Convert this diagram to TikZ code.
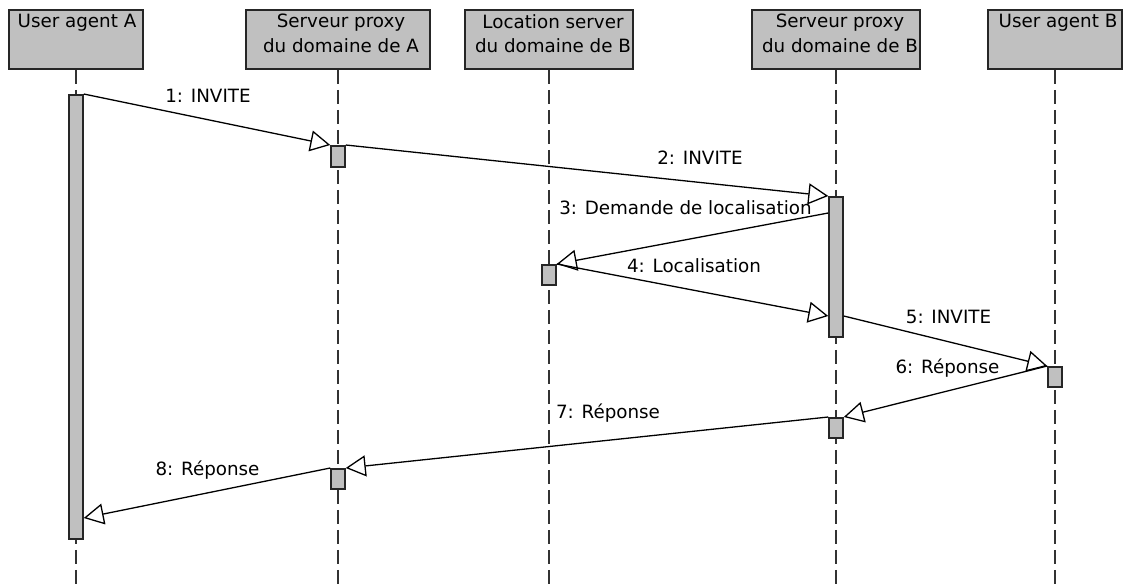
\documentclass[tikz,border=0pt]{standalone}
\usepackage{fontspec}
\setmainfont{DejaVu Sans}
\usetikzlibrary{arrows.meta}
\definecolor{boxgray}{HTML}{C0C0C0}

\begin{document}
\begin{tikzpicture}[x=1pt, y=-1pt,
    font=\fontsize{18.3}{24.5}\selectfont,
    actor/.style={draw=black!85, line width=1.5pt, fill=boxgray, minimum width=#1, minimum height=59pt, inner sep=0pt},
    actortext/.style={anchor=north, align=center, inner sep=0pt},
    lifeline/.style={draw=black!80, line width=1.8pt, dash pattern=on 14pt off 6pt},
    activ/.style={draw=black!85, line width=1.5pt, fill=boxgray, minimum width=14pt, minimum height=#1, inner sep=0pt, anchor=north},
    msg/.style={draw=black, line width=1.3pt, -{Triangle[length=20pt, width=21pt, fill=white]}},
    msgtext/.style={anchor=base, inner sep=0pt}]
  \useasboundingbox (0,0) rectangle (1123,586);
  \coordinate (bot) at (0,586);

  \node[actor=134pt] (uaA) at (76,39.5) {};
  \node[actor=184pt] (pxA) at (338,39.5) {};
  \node[actor=168pt] (locB) at (549,39.5) {};
  \node[actor=168pt] (pxB) at (836,39.5) {};
  \node[actor=134pt] (uaB) at (1055,39.5) {};
  \node[actortext] (uaAt) at (77,14) {User agent A};
  \node[actortext] (pxAt) at (341,14) {Serveur proxy\\du domaine de A};
  \node[actortext] (locBt) at (553,14) {Location server\\du domaine de B};
  \node[actortext] (pxBt) at (840,14) {Serveur proxy\\du domaine de B};
  \node[actortext] (uaBt) at (1058,14) {User agent B};

  \draw[lifeline] (uaA) -- (uaA |- bot);
  \draw[lifeline] (pxA) -- (pxA |- bot);
  \draw[lifeline] (locB) -- (locB |- bot);
  \draw[lifeline] (pxB) -- (pxB |- bot);
  \draw[lifeline] (uaB) -- (uaB |- bot);

  \node[activ=444pt] (actA) at (76,94) {};
  \node[activ=21pt] (actPA1) at (338,145) {};
  \node[activ=140pt] (actPB1) at (836,196) {};
  \node[activ=20pt] (actLB) at (549,264) {};
  \node[activ=20pt] (actUB) at (1055,366) {};
  \node[activ=20pt] (actPB2) at (836,417) {};
  \node[activ=20pt] (actPA2) at (338,468) {};

  \draw[msg] (actA.north east) -- (actPA1.north west);
  \draw[msg] (actPA1.north east) -- (actPB1.north west);
  \draw[msg] ([yshift=-17pt]actPB1.north west) -- (actLB.north east);
  \draw[msg] (actLB.north east) -- ([yshift=-120pt]actPB1.north west);
  \draw[msg] ([yshift=-120pt]actPB1.north east) -- (actUB.north west);
  \draw[msg] (actUB.north west) -- (actPB2.north east);
  \draw[msg] (actPB2.north west) -- (actPA2.north east);
  \draw[msg] (actPA2.north west) -- ([yshift=-424pt]actA.north east);

  \node[msgtext] (m1) at (208,102) {1: INVITE};
  \node[msgtext] (m2) at (700,164) {2: INVITE};
  \node[msgtext] (m3) at (685.5,214) {3: Demande de localisation};
  \node[msgtext] (m4) at (694,272) {4: Localisation};
  \node[msgtext] (m5) at (948.5,323) {5: INVITE};
  \node[msgtext] (m6) at (947.5,373) {6: Réponse};
  \node[msgtext] (m7) at (608,418) {7: Réponse};
  \node[msgtext] (m8) at (207.5,475) {8: Réponse};
\end{tikzpicture}
\end{document}
